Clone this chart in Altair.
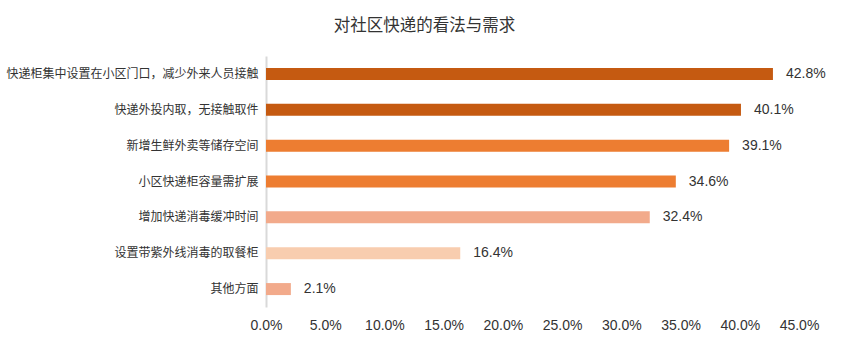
import altair as alt
import pandas as pd

categories = [
    "快递柜集中设置在小区门口，减少外来人员接触",
    "快递外投内取，无接触取件",
    "新增生鲜外卖等储存空间",
    "小区快递柜容量需扩展",
    "增加快递消毒缓冲时间",
    "设置带紫外线消毒的取餐柜",
    "其他方面",
]
values = [42.8, 40.1, 39.1, 34.6, 32.4, 16.4, 2.1]
tick_values = [0, 5, 10, 15, 20, 25, 30, 35, 40, 45]
palette = ["#C55A11", "#C55A11", "#ED7D31", "#ED7D31", "#F2AA8B", "#F8CDAF", "#F2AA8B"]

df = pd.DataFrame({"category": categories, "value": values})

FONT = "Liberation Sans, Helvetica, 'Noto Sans CJK SC', sans-serif"
TXT = "#333333"

y_enc = alt.Y(
    "category:N",
    sort=categories,
    scale=alt.Scale(paddingInner=0, paddingOuter=0),
    axis=alt.Axis(
        title=None,
        ticks=False,
        domain=True,
        domainColor="#D9D9D9",
        domainWidth=2,
        labelPadding=8,
        labelFontSize=12,
        labelColor=TXT,
        labelFont=FONT,
        labelLimit=400,
    ),
)

x_enc = alt.X(
    "value:Q",
    scale=alt.Scale(domain=[0, 45], nice=False),
    axis=alt.Axis(
        title=None,
        values=tick_values,
        labelExpr="format(datum.value, '.1f') + '%'",
        grid=False,
        domain=False,
        ticks=False,
        labelPadding=11,
        labelFontSize=14,
        labelColor=TXT,
        labelFont=FONT,
        labelFlush=False,
        labelOverlap=False,
    ),
)

bars = alt.Chart(df).mark_bar(height=12).encode(
    x=x_enc,
    y=y_enc,
    color=alt.Color(
        "category:N",
        scale=alt.Scale(domain=categories, range=palette),
        legend=None,
    ),
)

labels = alt.Chart(df).transform_calculate(
    label="format(datum.value, '.1f') + '%'"
).mark_text(
    align="left", baseline="middle", dx=13, fontSize=14, color=TXT, font=FONT
).encode(
    x=alt.X("value:Q"),
    y=alt.Y("category:N", sort=categories),
    text="label:N",
)

chart = (
    alt.layer(bars, labels)
    .properties(
        width=533,
        height=251,
        background="white",
        autosize=alt.AutoSizeParams(type="none"),
        padding={"left": 266, "top": 56, "right": 51, "bottom": 35},
        title=alt.TitleParams(
            "对社区快递的看法与需求",
            anchor="middle",
            frame="group",
            dx=-108,
            offset=22,
            fontSize=16.5,
            fontWeight="normal",
            color=TXT,
            font=FONT,
        ),
    )
    .configure_view(strokeWidth=0, stroke=None)
)

chart.save("out.html", embed_options={"renderer": "svg", "actions": False})
